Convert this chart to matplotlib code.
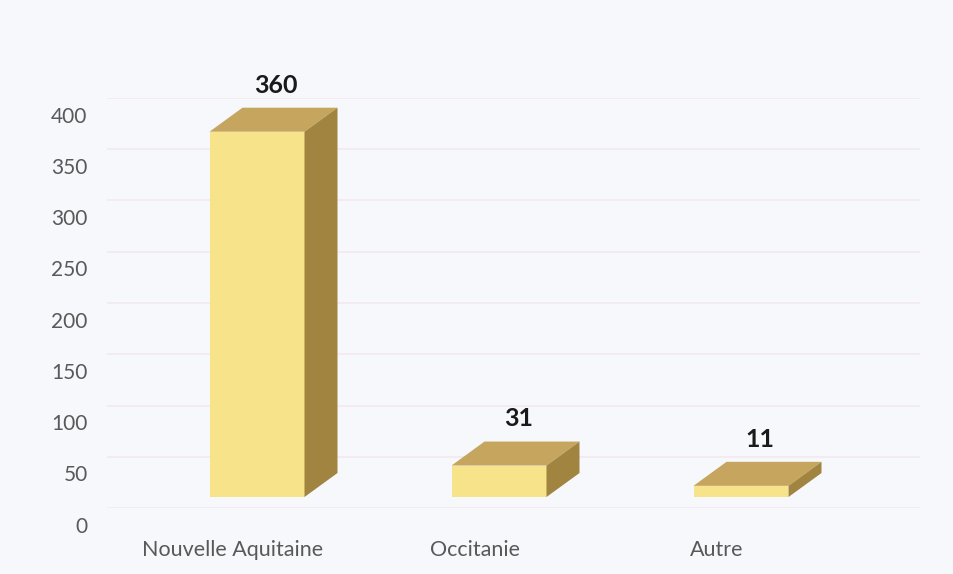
import matplotlib.pyplot as plt
from matplotlib.patches import Polygon
from matplotlib.transforms import ScaledTranslation

# données
regions = ['Nouvelle Aquitaine', 'Occitanie', 'Autre']
effectifs = [360, 31, 11]
yticks = [0, 50, 100, 150, 200, 250, 300, 350, 400]

# couleurs des faces
c_front = '#f7e38a'
c_top = '#c6a65e'
c_side = '#a1843f'
c_bg = '#f6f8fc'

plt.rcParams['font.family'] = ['Lato', 'DejaVu Sans']

W, H = 954, 574
fig = plt.figure(figsize=(W / 100, H / 100), dpi=100, facecolor=c_bg)

# axes placés en pixels : grille de 0 (y=508) à 400 (y=98), x de 107 à 920
ax = fig.add_axes([107 / W, (H - 508) / H, (920 - 107) / W, 410 / H])
ax.set_facecolor(c_bg)
px_x = 242.0              # pixels par catégorie
x0 = -(257 - 107) / px_x  # catégorie 0 au pixel 257
ax.set_xlim(x0, x0 + (920 - 107) / px_x)
ax.set_ylim(0, 400)
px_y = 410 / 400.0

# géométrie pseudo 3D
w = 95 / px_x
dx = 33 / px_x
dy = 24 / px_y
base = 11 / px_y
sc = 0.99

for i, v in enumerate(effectifs):
    xl, xr = i - w / 2, i + w / 2
    top = base + v * sc
    ax.add_patch(Polygon([(xl, base), (xr, base), (xr, top), (xl, top)],
                         closed=True, fc=c_front, ec='none', clip_on=False))
    ax.add_patch(Polygon([(xl, top), (xr, top), (xr + dx, top + dy), (xl + dx, top + dy)],
                         closed=True, fc=c_top, ec='none', clip_on=False))
    ax.add_patch(Polygon([(xr, base), (xr, top), (xr + dx, top + dy), (xr + dx, base + dy)],
                         closed=True, fc=c_side, ec='none', clip_on=False))
    ax.text(i + 0.08, top + dy + 22, str(v), ha='center', va='center',
            fontsize=18, fontweight='bold', color='#1a1a1a', clip_on=False)

# grille
for t in yticks:
    ax.axhline(t, color='#f3e9ed', lw=1.2, zorder=0)

ax.set_yticks(yticks)
ax.set_yticklabels([str(t) for t in yticks], fontsize=15, color='#595959')
ax.tick_params(axis='y', length=0, pad=14)
shift = ScaledTranslation(0, -12 / 72, fig.dpi_scale_trans)
for lab in ax.get_yticklabels():
    lab.set_transform(lab.get_transform() + shift)

ax.set_xticks([i - 0.1 for i in range(len(regions))])
ax.set_xticklabels(regions, fontsize=15.5, color='#595959')
ax.tick_params(axis='x', length=0, pad=23)

for s in ax.spines.values():
    s.set_visible(False)

fig.savefig('out.png', dpi=100, facecolor=c_bg)
